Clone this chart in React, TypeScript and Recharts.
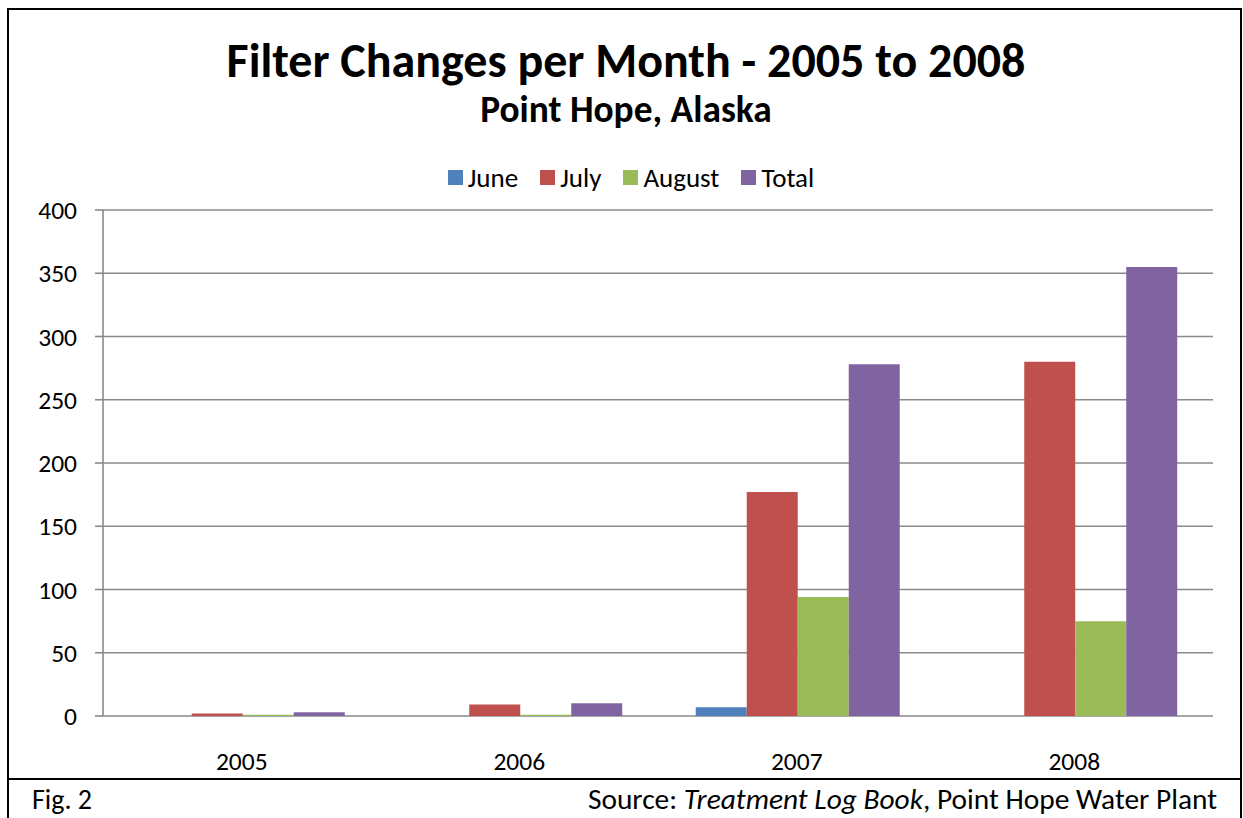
import {
  BarChart,
  Bar,
  XAxis,
  YAxis,
  CartesianGrid,
  Legend,
} from "recharts";

const years = ["2005", "2006", "2007", "2008"];
const june = [0, 0, 7, 0];
const july = [2, 9, 177, 280];
const august = [1, 1, 94, 75];
const total = [3, 10, 278, 355];
const yTicks = [0, 50, 100, 150, 200, 250, 300, 350, 400];

const FONT = 'Carlito, Calibri, Lato, "Open Sans", sans-serif';
const GRID = "#8a8a8a";

const series = [
  { key: "june", name: "June", color: "#4F81BD" },
  { key: "july", name: "July", color: "#C0504D" },
  { key: "august", name: "August", color: "#9BBB59" },
  { key: "total", name: "Total", color: "#8064A2" },
];

const data = years.map((year, i) => ({
  year,
  june: june[i],
  july: july[i],
  august: august[i],
  total: total[i],
}));

function LegendRow() {
  return (
    <div
      style={{
        display: "flex",
        justifyContent: "center",
        alignItems: "center",
        height: 32,
        fontFamily: FONT,
        fontSize: 27,
        color: "#000",
        paddingLeft: 13,
      }}
    >
      {series.map((s, i) => (
        <div
          key={s.key}
          style={{
            display: "flex",
            alignItems: "center",
            marginRight: i === series.length - 1 ? 0 : 22,
          }}
        >
          <span
            style={{
              width: 15,
              height: 15,
              background: s.color,
              marginRight: 5,
              display: "inline-block",
            }}
          />
          <span>{s.name}</span>
        </div>
      ))}
    </div>
  );
}

export default function App() {
  return (
    <div
      style={{
        position: "absolute",
        left: 0,
        top: 0,
        width: 1243,
        height: 818,
        overflow: "hidden",
        background: "#fff",
      }}
    >
      <div
        style={{
          position: "absolute",
          left: 7,
          top: 8,
          width: 1235,
          height: 840,
          border: "2px solid #000",
          boxSizing: "border-box",
        }}
      />
      <div
        style={{
          position: "absolute",
          left: 7,
          top: 778,
          width: 1235,
          height: 2,
          background: "#000",
        }}
      />
      <div style={{ position: "absolute", left: 9, top: 10 }}>
        <BarChart
          width={1231}
          height={768}
          data={data}
          margin={{ top: 168, right: 27, bottom: 10, left: 34 }}
          barCategoryGap="13.6%"
          barGap={0}
        >
          <CartesianGrid vertical={false} stroke={GRID} strokeWidth={1.6} />
          <XAxis
            xAxisId="edge"
            type="number"
            dataKey="edge"
            domain={[0, 4]}
            ticks={[0, 1, 2, 3, 4]}
            tick={false}
            tickSize={8}
            height={0}
            stroke={GRID}
            strokeWidth={1.6}
            allowDataOverflow
          />
          <XAxis
            dataKey="year"
            height={52}
            tickLine={false}
            axisLine={false}
            tickSize={0}
            tickMargin={36}
            tick={{ fill: "#000", fontSize: 25.5, fontFamily: FONT }}
          />
          <YAxis
            width={60}
            domain={[0, 400]}
            ticks={yTicks}
            interval={0}
            tickSize={8}
            tickMargin={18}
            stroke={GRID}
            strokeWidth={1.6}
            tick={{ fill: "#000", fontSize: 25.5, fontFamily: FONT }}
          />
          <Legend
            verticalAlign="top"
            wrapperStyle={{ top: 151, left: 0, width: 1231 }}
            content={() => <LegendRow />}
          />
          {series.map((s) => (
            <Bar
              key={s.key}
              dataKey={s.key}
              name={s.name}
              fill={s.color}
              isAnimationActive={false}
            />
          ))}
        </BarChart>
      </div>
      <svg
        width={1243}
        height={818}
        style={{ position: "absolute", left: 0, top: 0, pointerEvents: "none" }}
      >
        <text
          x={626}
          y={77}
          textAnchor="middle"
          fontFamily={FONT}
          fontWeight="bold"
          fontSize={48}
        >
          Filter Changes per Month - 2005 to 2008
        </text>
        <text
          x={626}
          y={122}
          textAnchor="middle"
          fontFamily={FONT}
          fontWeight="bold"
          fontSize={37.4}
        >
          Point Hope, Alaska
        </text>
        <text x={32} y={809} fontFamily={FONT} fontSize={28}>
          Fig. 2
        </text>
        <text x={1217} y={809} textAnchor="end" fontFamily={FONT} fontSize={29.4}>
          Source: <tspan fontStyle="italic">Treatment Log Book</tspan>, Point Hope
          Water Plant
        </text>
      </svg>
    </div>
  );
}
